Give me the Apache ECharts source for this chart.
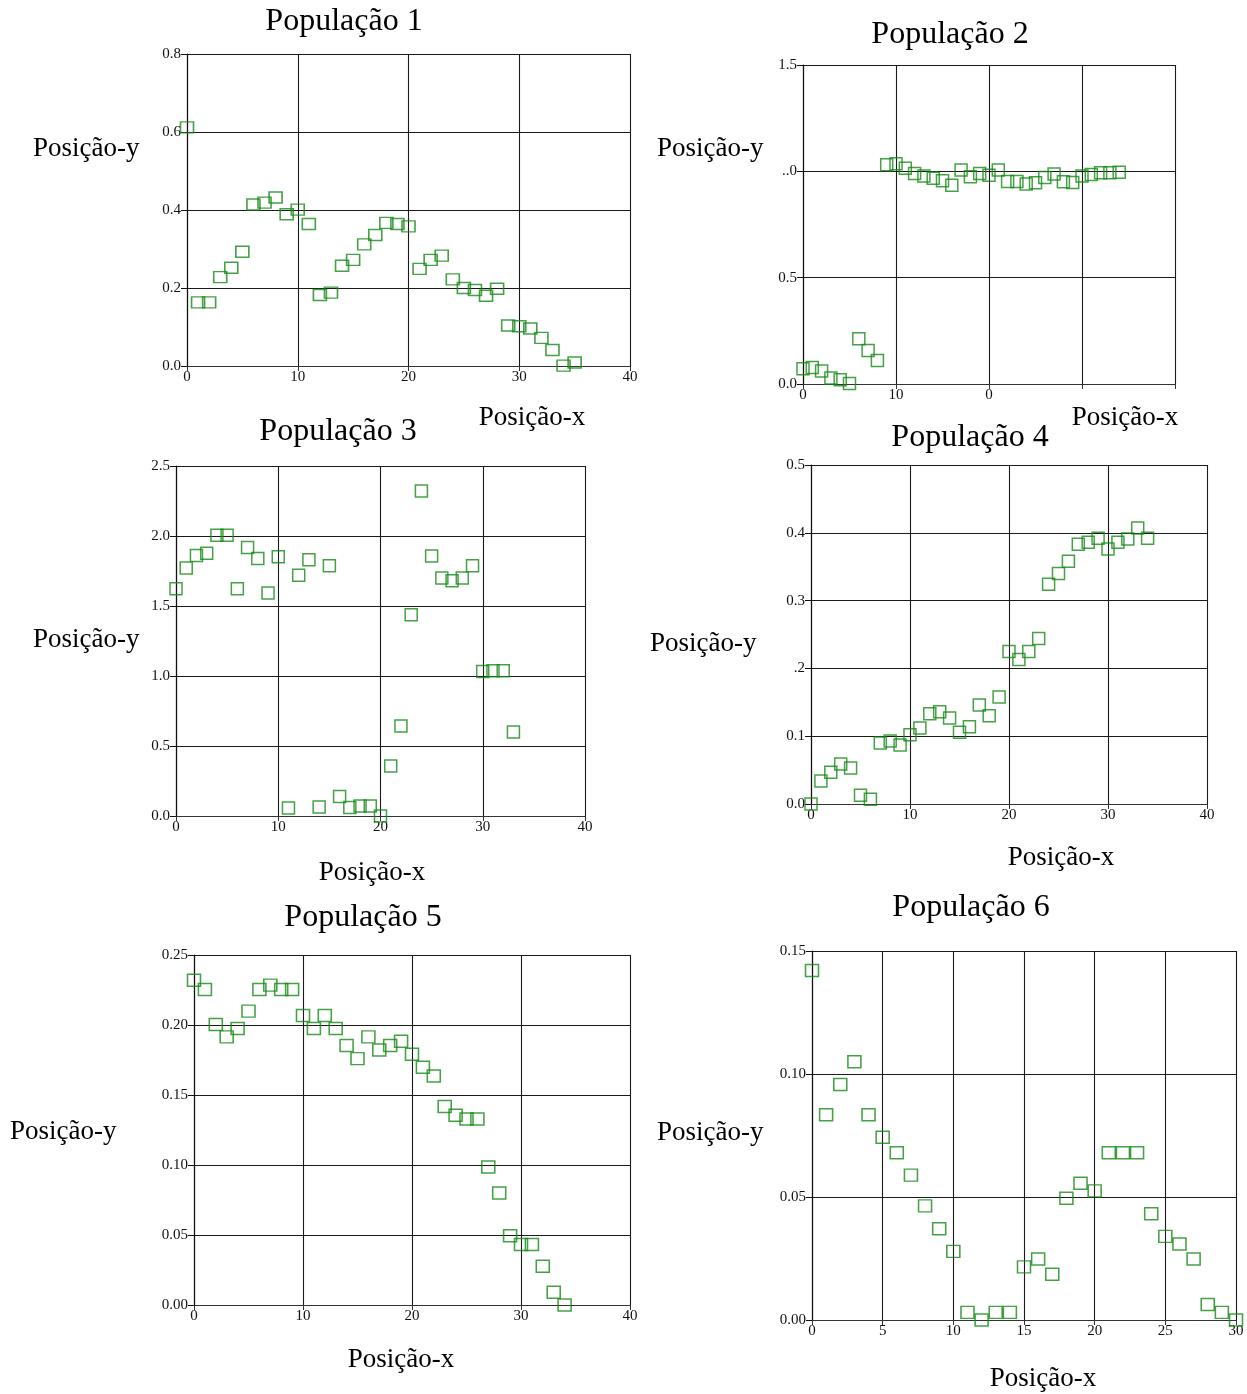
<!DOCTYPE html>
<html>
<head>
<meta charset="utf-8">
<script src="https://cdn.jsdelivr.net/npm/echarts@6/dist/echarts.min.js"></script>
<style>
  html, body { margin: 0; padding: 0; background: #fff; }
  #chart { width: 1247px; height: 1394px; }
</style>
</head>
<body>
<div id="chart"></div>
<script>
// Position-y per generation for each population (x = generation index 0..n)
const pop1Y = [0.612, 0.163, 0.163, 0.228, 0.252, 0.293, 0.414, 0.419, 0.432, 0.389, 0.401, 0.364,
  0.182, 0.188, 0.257, 0.272, 0.312, 0.336, 0.367, 0.364, 0.358, 0.249, 0.272, 0.283, 0.222,
  0.200, 0.195, 0.180, 0.198, 0.104, 0.102, 0.096, 0.072, 0.041, 0.001, 0.009];
const pop2Y = [0.072, 0.078, 0.061, 0.028, 0.020, 0.002, 0.213, 0.158, 0.110, 1.031, 1.036, 1.015,
  0.990, 0.978, 0.967, 0.956, 0.935, 1.006, 0.974, 0.990, 0.981, 1.006, 0.952, 0.952, 0.940,
  0.946, 0.971, 0.987, 0.951, 0.948, 0.978, 0.985, 0.993, 0.993, 0.996];
const pop3Y = [1.624, 1.771, 1.860, 1.876, 2.005, 2.005, 1.624, 1.917, 1.840, 1.593, 1.852, 0.057,
  1.719, 1.831, 0.064, 1.788, 0.140, 0.060, 0.071, 0.071, 0.000, 0.357, 0.643, 1.438, 2.321,
  1.857, 1.700, 1.681, 1.700, 1.788, 1.033, 1.038, 1.038, 0.600];
const pop4Y = [0.000, 0.034, 0.047, 0.059, 0.053, 0.013, 0.007, 0.090, 0.093, 0.087, 0.102, 0.112,
  0.133, 0.136, 0.127, 0.106, 0.114, 0.146, 0.130, 0.158, 0.225, 0.213, 0.225, 0.244, 0.324,
  0.340, 0.358, 0.383, 0.386, 0.392, 0.376, 0.386, 0.391, 0.407, 0.392];
const pop5Y = [0.2319, 0.2254, 0.2003, 0.1915, 0.1975, 0.2099, 0.2254, 0.2285, 0.2254, 0.2254,
  0.2068, 0.1975, 0.2068, 0.1975, 0.1853, 0.1760, 0.1915, 0.1822, 0.1853, 0.1884, 0.1791,
  0.1698, 0.1636, 0.1418, 0.1356, 0.1328, 0.1328, 0.0986, 0.0800, 0.0494, 0.0432, 0.0432,
  0.0277, 0.0091, 0.0000];
const pop6Y = [0.1421, 0.0834, 0.0957, 0.1050, 0.0834, 0.0743, 0.0680, 0.0589, 0.0464, 0.0371,
  0.0279, 0.0031, 0.0000, 0.0031, 0.0031, 0.0216, 0.0248, 0.0186, 0.0495, 0.0556, 0.0525,
  0.0680, 0.0680, 0.0680, 0.0432, 0.0340, 0.0309, 0.0248, 0.0063, 0.0031, 0.0000];

// Tick labels as printed on each axis
const xTicks40 = ['0', '10', '20', '30', '40'];
const xTicks2 = ['0', '10', '0', '', ''];
const xTicks30 = ['0', '5', '10', '15', '20', '25', '30'];
const yTicks1 = ['0.0', '0.2', '0.4', '0.6', '0.8'];
const yTicks2 = ['0.0', '0.5', '..0', '1.5'];
const yTicks3 = ['0.0', '0.5', '1.0', '1.5', '2.0', '2.5'];
const yTicks4 = ['0.0', '0.1', '.2', '0.3', '0.4', '0.5'];
const yTicks5 = ['0.00', '0.05', '0.10', '0.15', '0.20', '0.25'];
const yTicks6 = ['0.00', '0.05', '0.10', '0.15'];

const titles = ['População 1', 'População 2', 'População 3', 'População 4', 'População 5', 'População 6'];
const xName = 'Posição-x';
const yName = 'Posição-y';

const SERIF = '"Liberation Serif", "Times New Roman", serif';
const GREEN = '#178a17';

// Panel layout: plot box, title / axis-name anchors, axis scales
const panels = [
  { y: pop1Y, box: [187, 54, 443, 312], xMax: 40, xInt: 10, xT: xTicks40, yMax: 0.8, yInt: 0.2, yT: yTicks1,
    title: [344, 22], yn: [33, 149], xn: [532, 418], sym: [13, 11] },
  { y: pop2Y, box: [803, 65, 372, 319], xMax: 40, xInt: 10, xT: xTicks2, yMax: 1.5, yInt: 0.5, yT: yTicks2,
    title: [950, 35], yn: [657, 149], xn: [1125, 418], sym: [12, 12] },
  { y: pop3Y, box: [176, 466, 409, 350], xMax: 40, xInt: 10, xT: xTicks40, yMax: 2.5, yInt: 0.5, yT: yTicks3,
    title: [338, 432], yn: [33, 640], xn: [372, 873], sym: [12, 12] },
  { y: pop4Y, box: [811, 465, 396, 339], xMax: 40, xInt: 10, xT: xTicks40, yMax: 0.5, yInt: 0.1, yT: yTicks4,
    title: [970, 438], yn: [650, 644], xn: [1061, 858], sym: [12, 12] },
  { y: pop5Y, box: [194, 955, 436, 350], xMax: 40, xInt: 10, xT: xTicks40, yMax: 0.25, yInt: 0.05, yT: yTicks5,
    title: [363, 918], yn: [10, 1132], xn: [401, 1360], sym: [13, 12] },
  { y: pop6Y, box: [812, 951, 424, 369], xMax: 30, xInt: 5, xT: xTicks30, yMax: 0.15, yInt: 0.05, yT: yTicks6,
    title: [971, 908], yn: [657, 1133], xn: [1043, 1379], sym: [13, 12] }
];

function tickText(list, min, step) {
  return function (v) {
    const i = Math.round((v - min) / step);
    return list[i] !== undefined ? list[i] : '';
  };
}

const grid = [], xAxis = [], yAxis = [], series = [], graphic = [];

panels.forEach(function (p, k) {
  grid.push({ left: p.box[0], top: p.box[1], width: p.box[2], height: p.box[3], containLabel: false });
  xAxis.push({
    type: 'value', gridIndex: k, min: 0, max: p.xMax, interval: p.xInt,
    axisLine: { show: true, onZero: false, lineStyle: { color: '#333', width: 1.2 } },
    axisTick: { show: true, inside: false, length: 5, lineStyle: { color: '#333' } },
    axisLabel: { color: '#111', fontFamily: SERIF, fontSize: 15, margin: 4,
      formatter: tickText(p.xT, 0, p.xInt) },
    splitLine: { show: true, lineStyle: { color: '#1a1a1a', width: 1.1 } }
  });
  yAxis.push({
    type: 'value', gridIndex: k, min: 0, max: p.yMax, interval: p.yInt,
    axisLine: { show: true, onZero: false, lineStyle: { color: '#111', width: 1.2 } },
    axisTick: { show: true, inside: false, length: 6, lineStyle: { color: '#111' } },
    axisLabel: { color: '#111', fontFamily: SERIF, fontSize: 15, margin: 6,
      formatter: tickText(p.yT, 0, p.yInt) },
    splitLine: { show: true, lineStyle: { color: '#1a1a1a', width: 1.1 } }
  });
  series.push({
    type: 'scatter', xAxisIndex: k, yAxisIndex: k,
    symbol: 'rect', symbolSize: p.sym,
    itemStyle: { color: 'rgba(0,0,0,0)', borderColor: GREEN, borderWidth: 1.5 },
    data: p.y.map(function (v, i) { return [i, v]; }),
    z: 5
  });
  graphic.push({
    type: 'text', x: p.title[0], y: p.title[1],
    style: { text: titles[k], font: '32px ' + SERIF, fill: '#000', textAlign: 'center', textVerticalAlign: 'middle' }
  });
  graphic.push({
    type: 'text', x: p.yn[0], y: p.yn[1],
    style: { text: yName, font: '27px ' + SERIF, fill: '#000', textAlign: 'left', textVerticalAlign: 'middle' }
  });
  graphic.push({
    type: 'text', x: p.xn[0], y: p.xn[1],
    style: { text: xName, font: '27px ' + SERIF, fill: '#000', textAlign: 'center', textVerticalAlign: 'middle' }
  });
});

const chart = echarts.init(document.getElementById('chart'), null, { renderer: 'canvas' });
chart.setOption({
  animation: false,
  backgroundColor: '#fff',
  grid: grid,
  xAxis: xAxis,
  yAxis: yAxis,
  series: series,
  graphic: graphic
});
</script>
</body>
</html>
